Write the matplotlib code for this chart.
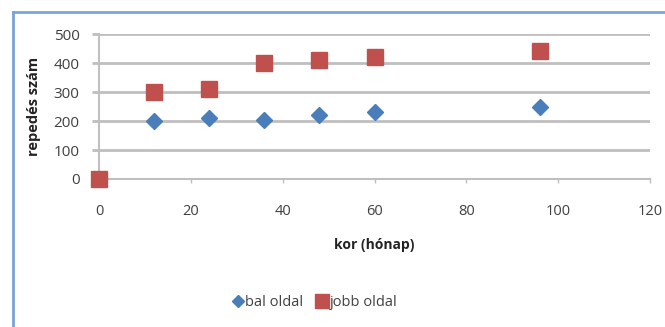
import matplotlib.pyplot as plt
from matplotlib.lines import Line2D

# age in months and crack counts per side
kor = [0, 12, 24, 36, 48, 60, 96]
bal_oldal = [0, 200, 210, 205, 220, 230, 250]
jobb_oldal = [0, 300, 310, 400, 410, 420, 440]

plt.rcParams['font.family'] = ['Open Sans', 'DejaVu Sans']

fig = plt.figure(figsize=(6.65, 3.27), dpi=100)
ax = fig.add_axes([0.1489, 0.4526, 0.8286, 0.4434])

blue = '#4a7ebb'
red = '#c0504d'
grey = '#bfbfbf'
text_col = '#404040'

ax.plot(kor, bal_oldal, linestyle='none', marker='D', markersize=8,
        color=blue, label='bal oldal', zorder=3)
ax.plot(kor, jobb_oldal, linestyle='none', marker='s', markersize=11,
        color=red, label='jobb oldal', zorder=4, clip_on=False)

ax.set_xlim(0, 120)
ax.set_ylim(0, 500)
ax.set_xticks(range(0, 121, 20))
ax.set_yticks(range(0, 501, 100))
ax.grid(axis='y', color=grey, linewidth=2)
ax.set_axisbelow(True)

for s in ['top', 'right']:
    ax.spines[s].set_visible(False)
for s in ['left', 'bottom']:
    ax.spines[s].set_color(grey)
    ax.spines[s].set_linewidth(1.5)

ax.tick_params(axis='x', colors=grey, length=3, width=1, labelcolor=text_col,
               labelsize=10.5, pad=15)
ax.tick_params(axis='y', colors=grey, length=5, width=2, labelcolor=text_col,
               labelsize=11, pad=9)

ax.set_xlabel('kor (hónap)', fontweight='bold', fontsize=10, color='#222222',
              labelpad=14)
ax.set_ylabel('repedés szám', fontweight='bold', fontsize=10.5, color='#222222',
              labelpad=9)

handles = [Line2D([], [], linestyle='none', marker='D', markersize=6.5, color=blue),
           Line2D([], [], linestyle='none', marker='s', markersize=10, color=red)]
fig.legend(handles, ['bal oldal', 'jobb oldal'], loc='center',
           bbox_to_anchor=(0.474, 0.076), ncol=2, frameon=False,
           fontsize=10.5, handlelength=0.6, handletextpad=0.2, columnspacing=1.0,
           labelcolor=text_col)

# chart frame: only the top and left edges
fig.add_artist(Line2D([0.019, 1.0], [0.963, 0.963], color='#7ba3d8', linewidth=2,
                      transform=fig.transFigure))
fig.add_artist(Line2D([0.019, 0.019], [0.0, 0.963], color='#7ba3d8', linewidth=2,
                      transform=fig.transFigure))

fig.savefig('out.png', dpi=100)
